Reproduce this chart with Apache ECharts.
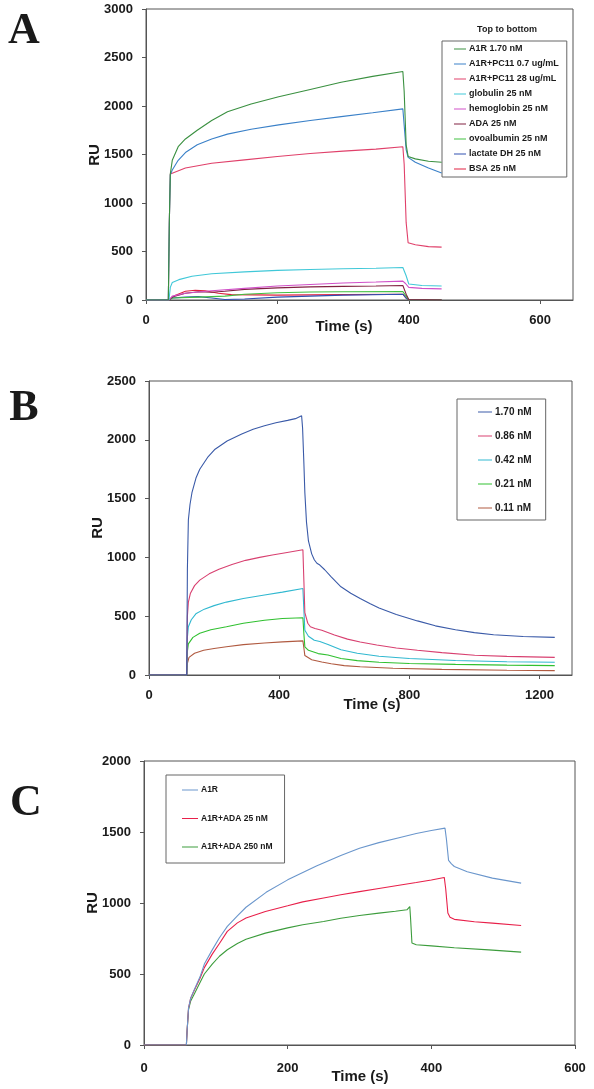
<!DOCTYPE html>
<html><head><meta charset="utf-8">
<script src="https://cdn.jsdelivr.net/npm/echarts@6/dist/echarts.min.js"></script>
<style>html,body{margin:0;padding:0;background:#fff}#c{width:594px;height:1089px}</style>
</head><body><div id="c"></div>
<script>
// ---------- Panel A (time s, RU) ----------
const A_names = ["A1R 1.70 nM","A1R+PC11 0.7 ug/mL","A1R+PC11 28 ug/mL","globulin 25 nM","hemoglobin 25 nM","ADA 25 nM","ovoalbumin 25 nM","lactate DH 25 nM","BSA 25 nM"];
const A_A1R = [[0,0],[34,0],[35.5,800],[37,1300],[40,1440],[49,1580],[60,1660],[78,1750],[100,1850],[124,1940],[160,2020],[202,2095],[250,2170],[297,2244],[345,2305],[391,2355],[393,2150],[396,1600],[399,1480],[410,1455],[430,1430],[450,1420]];
const A_PC07 = [[0,0],[34,0],[35.5,800],[37,1290],[40,1340],[49,1440],[60,1520],[78,1600],[100,1660],[124,1710],[160,1760],[202,1805],[250,1850],[297,1890],[345,1930],[391,1970],[393,1800],[396,1550],[399,1470],[410,1420],[430,1360],[450,1310]];
const A_PC28 = [[0,0],[34,0],[35.5,800],[37,1300],[40,1320],[60,1360],[100,1410],[150,1445],[200,1480],[250,1510],[300,1535],[350,1555],[391,1580],[393,1400],[396,800],[399,590],[410,570],[430,550],[450,545]];
const A_glob = [[0,0],[35,0],[37,130],[40,180],[50,210],[70,245],[100,270],[150,290],[200,305],[250,315],[300,322],[350,328],[391,335],[396,250],[400,165],[420,150],[450,145]];
const A_hemo = [[0,0],[35,0],[40,40],[60,70],[100,95],[150,120],[200,145],[250,160],[300,175],[350,185],[391,195],[395,170],[400,130],[420,120],[450,115]];
const A_ADA = [[0,0],[35,0],[40,30],[60,70],[80,85],[100,80],[120,90],[150,110],[200,125],[250,135],[300,140],[350,145],[391,150],[396,60],[400,5],[450,0]];
const A_ovo = [[0,0],[35,0],[40,20],[80,30],[120,40],[150,60],[200,75],[250,82],[300,85],[391,88],[396,40],[400,0],[450,0]];
const A_LDH = [[0,0],[35,0],[40,20],[60,30],[80,35],[100,20],[120,5],[150,10],[200,30],[300,50],[391,60],[396,20],[400,0],[450,0]];
const A_BSA = [[0,0],[35,0],[45,50],[60,90],[75,100],[90,95],[110,70],[130,55],[200,50],[300,55],[391,60],[396,20],[400,0],[450,0]];
const A_colors = ["#3a9040","#3a80c8","#e0406a","#40c8d8","#d050c8","#802040","#40c040","#3050b0","#e02040"];
const A_data = [A_A1R,A_PC07,A_PC28,A_glob,A_hemo,A_ADA,A_ovo,A_LDH,A_BSA];
const A_xTicks = [0,200,400,600], A_yTicks = [0,500,1000,1500,2000,2500,3000];

// ---------- Panel B ----------
const B_names = ["1.70 nM","0.86 nM","0.42 nM","0.21 nM","0.11 nM"];
const B_170 = [[0,0],[116,0],[118,900],[121,1320],[126,1450],[132,1550],[145,1680],[156,1750],[180,1850],[203,1920],[240,1990],[285,2050],[320,2090],[355,2120],[390,2145],[426,2165],[450,2180],[469,2205],[472,2100],[476,1800],[479,1550],[484,1300],[490,1140],[500,1030],[508,980],[516,950],[525,935],[540,895],[560,835],[590,750],[620,695],[649,650],[680,605],[707,570],[760,515],[825,460],[880,418],[942,385],[1000,360],[1059,342],[1150,327],[1247,320]];
const B_086 = [[0,0],[116,0],[118,500],[121,620],[127,693],[140,760],[156,807],[185,860],[215,900],[255,940],[297,975],[340,1000],[379,1020],[420,1040],[473,1065],[476,800],[479,530],[488,440],[496,410],[510,395],[531,380],[570,340],[610,305],[649,280],[700,255],[760,230],[825,210],[900,190],[1001,168],[1100,158],[1247,150]];
const B_042 = [[0,0],[116,0],[118,320],[121,410],[130,470],[144,520],[170,560],[200,590],[238,620],[290,650],[355,680],[410,705],[473,735],[476,550],[479,380],[490,330],[508,295],[525,285],[550,260],[590,215],[640,185],[707,160],[800,140],[942,123],[1100,113],[1247,108]];
const B_021 = [[0,0],[116,0],[118,200],[121,265],[135,320],[156,355],[190,385],[238,410],[290,440],[355,465],[410,480],[473,487],[476,350],[479,240],[490,210],[520,182],[550,170],[590,140],[640,122],[707,108],[800,98],[942,90],[1100,84],[1247,80]];
const B_011 = [[0,0],[116,0],[118,100],[123,150],[140,185],[168,210],[200,225],[238,240],[290,258],[355,272],[410,282],[473,290],[476,230],[479,165],[500,130],[531,110],[560,95],[600,80],[649,70],[750,58],[900,48],[1100,40],[1247,37]];
const B_colors = ["#3a5aa8","#d84070","#30b8d0","#30c030","#b05a40"];
const B_data = [B_170,B_086,B_042,B_021,B_011];
const B_xTicks = [0,400,800,1200], B_yTicks = [0,500,1000,1500,2000,2500];

// ---------- Panel C ----------
const C_names = ["A1R","A1R+ADA 25 nM","A1R+ADA 250 nM"];
const C_A1R = [[0,0],[59,0],[60,100],[62,260],[65,330],[70,390],[78,480],[84,570],[95,670],[105,755],[116,835],[130,910],[142,970],[170,1075],[200,1163],[240,1260],[274,1335],[300,1385],[327,1425],[355,1460],[379,1490],[400,1510],[419,1527],[421,1450],[424,1300],[428,1275],[432,1257],[450,1220],[485,1175],[525,1140]];
const C_ADA25 = [[0,0],[59,0],[60,100],[62,260],[65,330],[70,385],[78,470],[84,545],[95,640],[105,715],[116,800],[130,860],[142,895],[169,940],[200,980],[221,1008],[250,1035],[274,1058],[300,1080],[327,1102],[355,1125],[379,1144],[400,1162],[418,1180],[420,1100],[423,930],[426,900],[432,885],[460,868],[485,858],[525,842]];
const C_ADA250 = [[0,0],[59,0],[60,100],[62,250],[65,310],[70,360],[78,440],[84,500],[95,570],[105,625],[116,671],[130,715],[142,745],[169,788],[200,825],[221,847],[250,870],[274,893],[300,912],[327,929],[350,942],[366,952],[368,962],[370,975],[371,900],[373,718],[379,706],[400,698],[432,685],[480,670],[525,654]];
const C_colors = ["#6a96cc","#e8204a","#3c9c3c"];
const C_data = [C_A1R,C_ADA25,C_ADA250];
const C_xTicks = [0,200,400,600], C_yTicks = [0,500,1000,1500,2000];

const FONT = "Liberation Sans, Arial, sans-serif";
const axisCol = "#555";
const txtCol = "#1a1a1a";

function xAx(gi, max, interval, showMax, margin){
  return {type:'value', gridIndex:gi, min:0, max:max, interval:interval,
    axisLine:{show:true, lineStyle:{color:axisCol}}, axisTick:{show:true, length:4, lineStyle:{color:axisCol}},
    splitLine:{show:false},
    axisLabel:{margin:margin, color:txtCol, fontFamily:FONT, fontWeight:'bold', fontSize:13, showMaxLabel:showMax,
      formatter:v=>String(v)}};
}
function yAx(gi, max){
  return {type:'value', gridIndex:gi, min:0, max:max, interval:500,
    axisLine:{show:true, lineStyle:{color:axisCol}}, axisTick:{show:true, length:4, lineStyle:{color:axisCol}},
    splitLine:{show:false},
    axisLabel:{margin:13, color:txtCol, fontFamily:FONT, fontWeight:'bold', fontSize:13, formatter:v=>String(v)}};
}
const series = [];
function addSeries(names, data, colors, gi){
  names.forEach((n,i)=>series.push({name:n, type:'line', xAxisIndex:gi, yAxisIndex:gi, data:data[i],
    symbol:'none', showSymbol:false, animation:false, z: 10-i,
    lineStyle:{width:1.1, color:colors[i]}, itemStyle:{color:colors[i]}}));
}
addSeries(A_names, A_data, A_colors, 0);
addSeries(B_names, B_data, B_colors, 1);
addSeries(C_names, C_data, C_colors, 2);

function legend(names, left, top, padding, gap, iw, fs){
  return {data:names, orient:'vertical', left:left, top:top, padding:padding, itemGap:gap,
    icon:'rect', itemWidth:iw, itemHeight:1, borderColor:'#666', borderWidth:1, align:'left', selectedMode:false,
    textStyle:{fontFamily:FONT, fontWeight:'bold', fontSize:fs, lineHeight:10, height:10, color:txtCol, padding:[0,0,0,-2]}};
}
function txt(s, x, y, size, rot, fam){
  return {type:'text', x:x, y:y, rotation:rot||0, silent:true,
    style:{text:s, font:'bold '+size+'px '+(fam||FONT), fill:txtCol, align:'center', verticalAlign:'middle'}};
}

const chart = echarts.init(document.getElementById('c'), null, {renderer:'canvas'});
chart.setOption({
  animation:false,
  backgroundColor:'#fff',
  grid:[
    {left:146, top:9, width:427, height:291, show:true, borderColor:axisCol, borderWidth:1},
    {left:149, top:381, width:423, height:294, show:true, borderColor:axisCol, borderWidth:1},
    {left:144, top:761, width:431, height:284, show:true, borderColor:axisCol, borderWidth:1}
  ],
  xAxis:[xAx(0,650,200,false,14), xAx(1,1300,400,false,14), xAx(2,600,200,true,17)],
  yAxis:[yAx(0,3000), yAx(1,2500), yAx(2,2000)],
  legend:[
    legend(A_names, 442, 41, [3,8,3,12], 5, 12, 9),
    legend(B_names, 457, 399, [8,14,7,21], 14, 14, 10),
    legend(C_names, 166, 775, [10,12,11,16], 18.5, 16, 8.5)
  ],
  graphic:[
    txt('A', 24, 32, 44, 0, 'Liberation Serif, Times New Roman, serif'),
    txt('B', 24, 409, 44, 0, 'Liberation Serif, Times New Roman, serif'),
    txt('C', 26, 804, 44, 0, 'Liberation Serif, Times New Roman, serif'),
    txt('Top to bottom', 507, 30, 9),
    txt('Time (s)', 344, 327, 15),
    txt('Time (s)', 372, 705, 15),
    txt('Time (s)', 360, 1077, 15),
    txt('RU', 95, 155, 15, Math.PI/2),
    txt('RU', 98, 528, 15, Math.PI/2),
    txt('RU', 93, 903, 15, Math.PI/2)
  ],
  series:series
});
</script></body></html>
